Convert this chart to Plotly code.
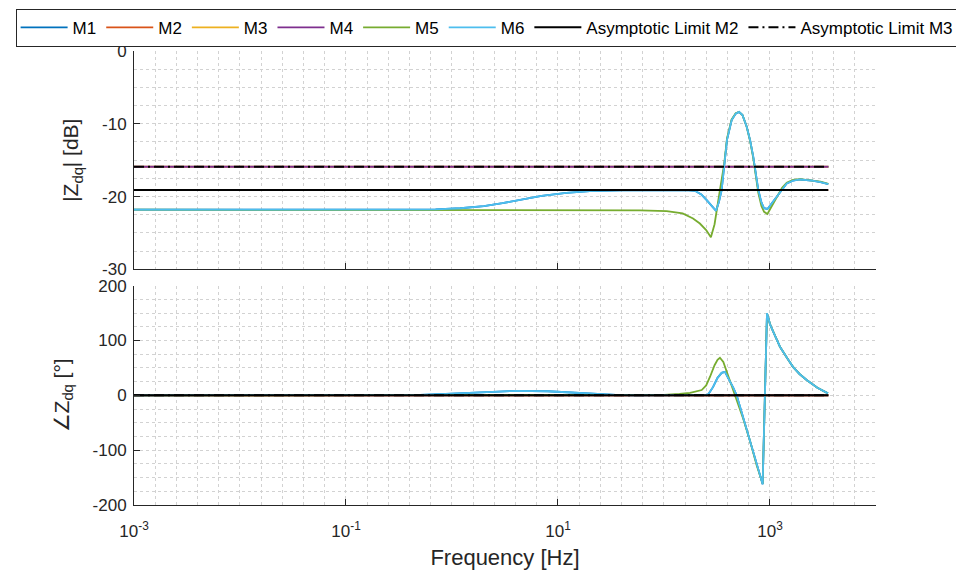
import plotly.graph_objects as go

# ---------------- data ----------------
series_names = ["M1", "M2", "M3", "M4", "M5", "M6"]
series_colors = ["#0072BD", "#D95319", "#EDB120", "#7E2F8E", "#77AC30", "#4DBEEE"]

f_flat = [0.001, 3548]

# M6 magnitude (dB)
m6_f_mag = [0.001, 0.3, 0.7, 1.2, 2, 3, 4.5, 7, 12, 20,
            40, 100, 160, 196, 225, 253, 285, 310, 330, 350,
            370, 393, 435, 475, 510, 550, 603, 650, 695, 735,
            776, 830, 877, 947, 1030, 1157, 1300, 1439, 1650, 1920,
            2500, 3000, 3548]
m6_db = [-21.8, -21.8, -21.75, -21.6, -21.3, -20.9, -20.4, -19.9, -19.5, -19.25,
         -19.15, -19.1, -19.1, -19.2, -19.7, -20.5, -21.4, -21.95, -20.7, -19.1,
         -15.8, -12.2, -9.5, -8.6, -8.37, -8.8, -10.4, -12.3, -14.5, -16.9,
         -19.1, -20.8, -21.6, -21.7, -21.0, -20.0, -18.9, -18.2, -17.8, -17.65,
         -17.8, -18.0, -18.3]

# M5 magnitude (dB)
m5_f_mag = [0.001, 20, 35, 60, 106, 150, 188, 218, 250, 277,
            300, 320, 337, 370, 393, 435, 475, 510, 550, 603,
            650, 695, 735, 776, 830, 880, 946, 1030, 1157, 1300,
            1439, 1650, 1920, 2500, 3000, 3548]
m5_db = [-21.8, -21.8, -21.82, -21.9, -22.0, -22.3, -23.0, -23.7, -24.6, -25.6,
         -23.8, -21.5, -19.1, -15.5, -12.0, -9.4, -8.55, -8.37, -8.8, -10.4,
         -12.4, -14.7, -17.2, -19.5, -21.3, -22.1, -22.4, -21.4, -20.0, -18.8,
         -18.1, -17.7, -17.6, -17.75, -17.95, -18.25]

# M6 phase (deg)
m6_f_ph = [0.001, 0.3, 0.5, 1, 2, 4, 8, 15, 25, 35,
           50, 200, 240, 262, 290, 320, 350, 376, 410, 450,
           485, 560, 647, 750, 853, 937, 1000, 1080, 1242, 1450,
           1648, 1900, 2218, 2800, 3524]
m6_deg = [0, 0, 0.8, 3, 6, 8.3, 7.5, 4.5, 2, 0.8,
          0.2, 0, 0.3, 2, 15, 32, 41, 43, 30, 14,
          0, -41, -83, -125, -162, 150, 130, 115, 88.7, 68,
          52, 39, 28, 14, 3.6]

# M5 phase (deg)
m5_f_ph = [0.001, 20, 60, 100, 140, 176, 227, 250, 272, 300,
           320, 337, 363, 400, 430, 468, 560, 647, 750, 853,
           937, 1000, 1080, 1242, 1450, 1648, 1900, 2218, 2800, 3524]
m5_deg = [0, 0, 0.3, 1, 2.5, 4.7, 9.7, 18, 34, 55,
          65, 68.6, 61, 38, 20, 0, -43, -83, -128, -161,
          150, 130, 115, 88.7, 68, 52, 39, 28, 14, 3.6]

# M1 follows M6 (hidden beneath it)
m1_f_mag, m1_db = list(m6_f_mag), list(m6_db)
m1_f_ph, m1_deg = list(m6_f_ph), list(m6_deg)

# flat models
m2_db, m2_deg = [-19.1, -19.1], [0, 0]
m3_db, m3_deg = [-15.9, -15.9], [0, 0]
m4_db, m4_deg = [-15.9, -15.9], [0, 0]

asym_m2_db, asym_m3_db = [-19.1, -19.1], [-15.9, -15.9]
asym_deg = [0, 0]

x_tickvals = [1e-3, 1e-1, 1e1, 1e3]
x_ticktext = ["10<sup>-3</sup>", "10<sup>-1</sup>", "10<sup>1</sup>", "10<sup>3</sup>"]
y1_tickvals = [-30, -20, -10, 0]
y1_ticktext = ["-30", "-20", "-10", "0"]
y2_tickvals = [-200, -100, 0, 100, 200]
y2_ticktext = ["-200", "-100", "0", "100", "200"]

# ---------------- figure ----------------
fig = go.Figure()

mag_data = [(m1_f_mag, m1_db), (f_flat, m2_db), (f_flat, m3_db), (f_flat, m4_db),
            (m5_f_mag, m5_db), (m6_f_mag, m6_db)]
ph_data = [(m1_f_ph, m1_deg), (f_flat, m2_deg), (f_flat, m3_deg), (f_flat, m4_deg),
           (m5_f_ph, m5_deg), (m6_f_ph, m6_deg)]

LW = 1.8
ALW = 2.0
DASHDOT = "10px,4px,2px,4px"
for name, col, (fx, fy) in zip(series_names, series_colors, mag_data):
    fig.add_trace(go.Scatter(x=fx, y=fy, mode="lines", name=name, legendgroup=name,
                             line=dict(color=col, width=LW), xaxis="x", yaxis="y"))
for name, col, (fx, fy) in zip(series_names, series_colors, ph_data):
    fig.add_trace(go.Scatter(x=fx, y=fy, mode="lines", name=name, legendgroup=name,
                             showlegend=False, line=dict(color=col, width=LW),
                             xaxis="x2", yaxis="y2"))

fig.add_trace(go.Scatter(x=f_flat, y=asym_m2_db, mode="lines", name="Asymptotic Limit M2",
                         legendgroup="a2", line=dict(color="black", width=ALW),
                         xaxis="x", yaxis="y"))
fig.add_trace(go.Scatter(x=f_flat, y=asym_m3_db, mode="lines", name="Asymptotic Limit M3",
                         legendgroup="a3", line=dict(color="black", width=ALW, dash=DASHDOT),
                         xaxis="x", yaxis="y"))
fig.add_trace(go.Scatter(x=f_flat, y=asym_deg, mode="lines", name="Asymptotic Limit M2",
                         legendgroup="a2", showlegend=False, line=dict(color="black", width=ALW),
                         xaxis="x2", yaxis="y2"))
fig.add_trace(go.Scatter(x=f_flat, y=asym_deg, mode="lines", name="Asymptotic Limit M3",
                         legendgroup="a3", showlegend=False,
                         line=dict(color="black", width=ALW, dash=DASHDOT),
                         xaxis="x2", yaxis="y2"))

TXT = "#262626"
GRID = "#d2d2d2"
XDOM = [0.1307, 0.9004]
common = dict(showline=True, linecolor=TXT, linewidth=1, mirror=False,
              ticks="inside", ticklen=6, tickwidth=1, tickcolor=TXT,
              showgrid=True, gridcolor=GRID, griddash="dot", gridwidth=1,
              zeroline=False, tickfont=dict(size=17, color=TXT), automargin=False)

xcommon = dict(common, type="log", range=[-3, 4], tickmode="array",
               tickvals=x_tickvals, ticktext=x_ticktext, domain=XDOM,
               minor=dict(tickmode="linear", tick0=-3, dtick=0.2, showgrid=True,
                          gridcolor=GRID, griddash="dot", gridwidth=1, ticks=""))

fig.update_layout(
    width=964, height=575,
    margin=dict(l=0, r=0, t=43, b=78, autoexpand=False),
    paper_bgcolor="white", plot_bgcolor="white",
    font=dict(family="Liberation Sans, Arial, sans-serif", color=TXT, size=17),
    xaxis=dict(xcommon, anchor="y", showticklabels=False),
    yaxis=dict(common, anchor="x", domain=[0.519, 1], range=[-30, 0],
               tickmode="array", tickvals=y1_tickvals, ticktext=y1_ticktext,
               ticklabelstandoff=3,
               minor=dict(tickmode="linear", tick0=0, dtick=2.5, showgrid=True,
                          gridcolor=GRID, griddash="dot", gridwidth=1, ticks=""),
               title=dict(text="|Z<sub>dq</sub>| [dB]", font=dict(size=21, color=TXT), standoff=17)),
    xaxis2=dict(xcommon, anchor="y2", ticklabelstandoff=11,
                title=dict(text="Frequency [Hz]", font=dict(size=22, color=TXT), standoff=9)),
    yaxis2=dict(common, anchor="x2", domain=[0, 0.483], range=[-200, 200],
                tickmode="array", tickvals=y2_tickvals, ticktext=y2_ticktext,
                ticklabelstandoff=3,
                minor=dict(tickmode="linear", tick0=0, dtick=25, showgrid=True,
                           gridcolor=GRID, griddash="dot", gridwidth=1, ticks=""),
                title=dict(text="∠Z<sub>dq</sub> [°]", font=dict(size=21, color=TXT), standoff=17)),
    legend=dict(orientation="h", x=0.497, xanchor="center", y=1.093, yanchor="top",
                bordercolor=TXT, borderwidth=1, bgcolor="white",
                font=dict(size=17, color="black"), itemwidth=47,
                tracegroupgap=0),
    showlegend=True,
)

fig.write_html("out.html")
